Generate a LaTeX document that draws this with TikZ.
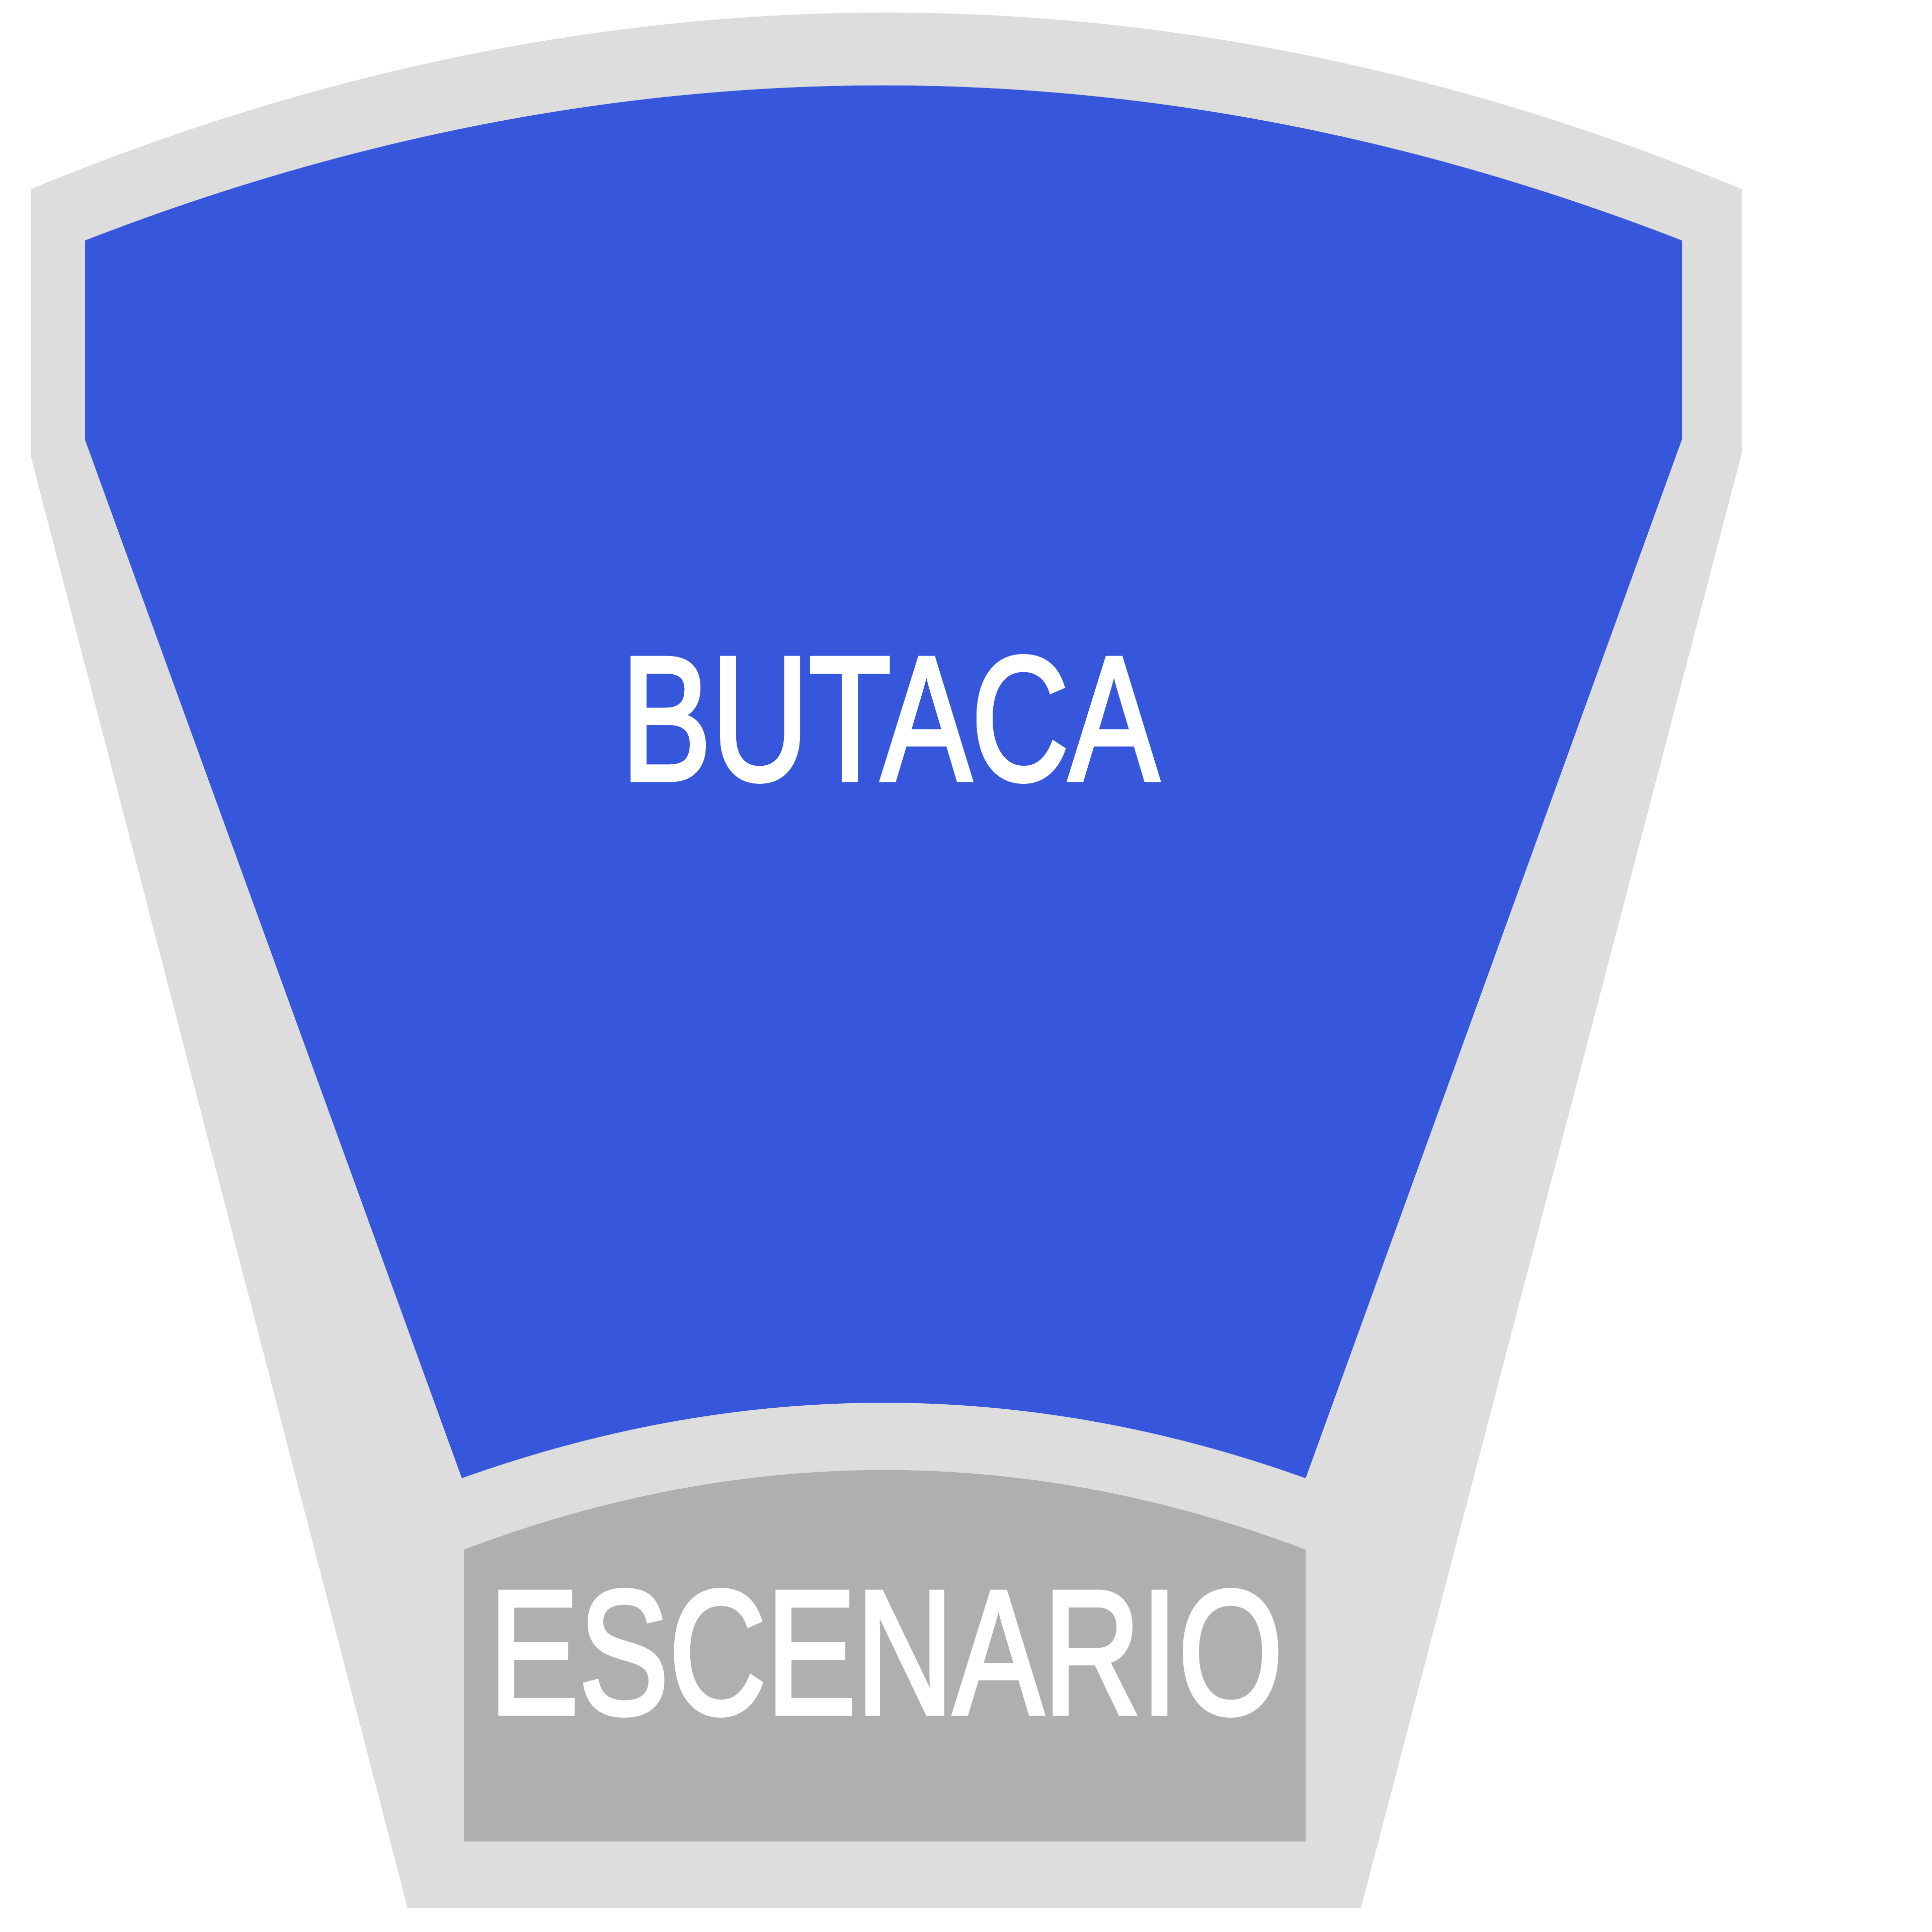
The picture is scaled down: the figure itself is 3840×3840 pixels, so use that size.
\documentclass[tikz,border=0pt]{standalone}
\usepackage{fontspec}
\setmainfont{Liberation Sans}
\newfontfamily\lblfont[FakeBold=2.5]{Liberation Sans}
\definecolor{wallgray}{HTML}{DDDDDD}
\definecolor{seatblue}{HTML}{3657DB}
\definecolor{stagegray}{HTML}{AFAFAF}
\tikzset{
  lbl/.style={text=white, anchor=base, inner sep=0pt, font=\lblfont\fontsize{100}{104}\selectfont},
}
\begin{document}
\begin{tikzpicture}[x=0.01cm, y=-0.01cm]
\useasboundingbox (0,0) rectangle (3840,3840);
% outer wall
\fill[wallgray] (61,376) .. controls (1195,-92) and (2328,-92) .. (3462,376)
  -- (3462,900) -- (2705,3792) -- (810,3792) -- (61,906) -- cycle;
% seating area
\fill[seatblue] (169,478) .. controls (1227,67) and (2285,67) .. (3343,478)
  -- (3343,873) -- (2595,2938) .. controls (2036,2738) and (1477,2738) .. (918,2938)
  -- (169,874) -- cycle;
% stage
\fill[stagegray] (922,3080) .. controls (1480,2869) and (2037,2869) .. (2595,3080)
  -- (2595,3660) -- (922,3660) -- cycle;
\node[lbl] (butaca) at (1769,1550) {\scalebox{0.763}[1]{BUTACA}};
\node[lbl] (escenario) at (1761,3406) {\scalebox{0.762}[1]{ESCENARIO}};
\end{tikzpicture}
\end{document}
